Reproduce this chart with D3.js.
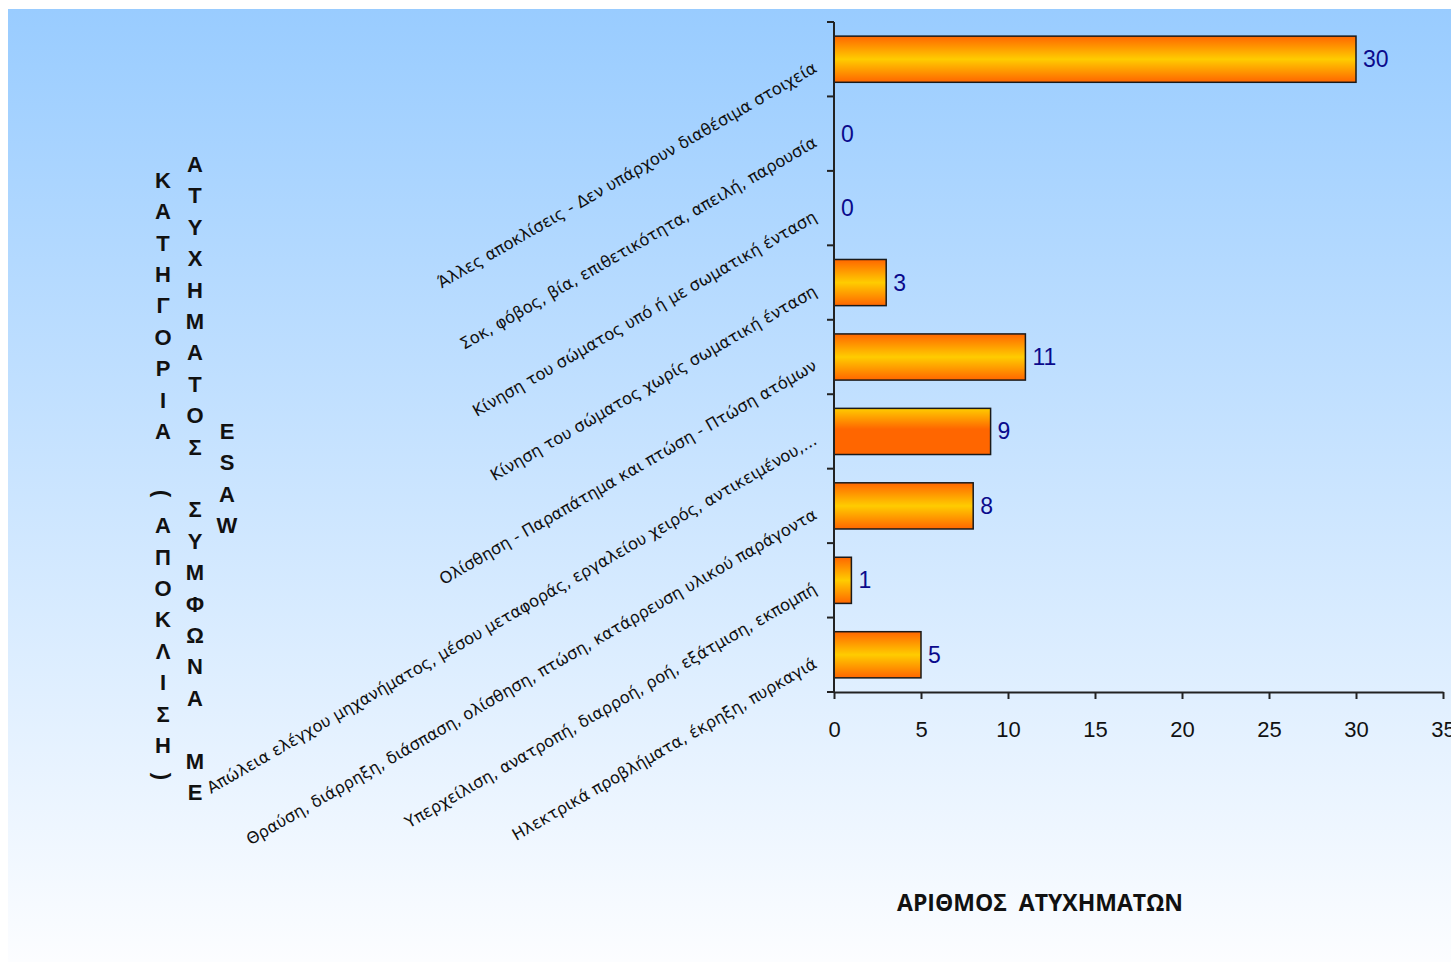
<!DOCTYPE html>
<html>
<head>
<meta charset="utf-8">
<script src="https://cdn.jsdelivr.net/npm/d3@7"></script>
<style>
  html, body { margin: 0; padding: 0; background: #ffffff; }
  svg { display: block; }
</style>
</head>
<body>
<svg id="chart" width="1451" height="962"></svg>
<script>
// ---- data ----
const categories = [
  "Άλλες αποκλίσεις - Δεν υπάρχουν διαθέσιμα στοιχεία",
  "Σοκ, φόβος, βία, επιθετικότητα, απειλή, παρουσία",
  "Κίνηση του σώματος υπό ή με σωματική ένταση",
  "Κίνηση του σώματος χωρίς σωματική ένταση",
  "Ολίσθηση - Παραπάτημα και πτώση - Πτώση ατόμων",
  "Απώλεια ελέγχου μηχανήματος, μέσου μεταφοράς, εργαλείου χειρός, αντικειμένου,...",
  "Θραύση, διάρρηξη, διάσπαση, ολίσθηση, πτώση, κατάρρευση υλικού παράγοντα",
  "Υπερχείλιση, ανατροπή, διαρροή, ροή, εξάτμιση, εκπομπή",
  "Ηλεκτρικά προβλήματα, έκρηξη, πυρκαγιά"
];
const values = [30, 0, 0, 3, 11, 9, 8, 1, 5];
const xTickValues = [0, 5, 10, 15, 20, 25, 30, 35];
const xTitle = "ΑΡΙΘΜΟΣ  ΑΤΥΧΗΜΑΤΩΝ";
const yTitleColumns = ["ΚΑΤΗΓΟΡΙΑ (ΑΠΟΚΛΙΣΗ)", "ΑΤΥΧΗΜΑΤΟΣ ΣΥΜΦΩΝΑ ΜΕ", "ESAW"];

// ---- layout ----
const W = 1451, H = 962;
const plot = { left: 834, right: 1443, top: 22, bottom: 692 };

const svg = d3.select("#chart");
const defs = svg.append("defs");

const bg = defs.append("linearGradient").attr("id", "bgGrad")
  .attr("x1", 0).attr("y1", 0).attr("x2", 0).attr("y2", 1);
bg.append("stop").attr("offset", "0%").attr("stop-color", "#99CCFF");
bg.append("stop").attr("offset", "100%").attr("stop-color", "#FCFDFF");

const barGrad = defs.append("linearGradient").attr("id", "barGrad")
  .attr("x1", 0).attr("y1", 0).attr("x2", 0).attr("y2", 1);
barGrad.append("stop").attr("offset", "0%").attr("stop-color", "#FF6600");
barGrad.append("stop").attr("offset", "50%").attr("stop-color", "#FFCC00");
barGrad.append("stop").attr("offset", "100%").attr("stop-color", "#FF6600");

const barGrad2 = defs.append("linearGradient").attr("id", "barGrad2")
  .attr("x1", 0).attr("y1", 0).attr("x2", 0).attr("y2", 1);
barGrad2.append("stop").attr("offset", "0%").attr("stop-color", "#FFCC00");
barGrad2.append("stop").attr("offset", "45%").attr("stop-color", "#FF6600");
barGrad2.append("stop").attr("offset", "100%").attr("stop-color", "#FF6600");

svg.append("rect").attr("x", 8).attr("y", 9).attr("width", W - 8).attr("height", H - 9)
  .attr("fill", "url(#bgGrad)");

const x = d3.scaleLinear().domain([0, 35]).range([plot.left, plot.right]);
const y = d3.scaleBand().domain(categories).range([plot.top, plot.bottom])
  .paddingInner(0.38).paddingOuter(0.19);

// bars
const gBars = svg.append("g");
values.forEach((v, i) => {
  if (v <= 0) return;
  gBars.append("rect")
    .attr("x", x(0))
    .attr("y", y(categories[i]))
    .attr("width", x(v) - x(0))
    .attr("height", y.bandwidth())
    .attr("fill", i === 5 ? "url(#barGrad2)" : "url(#barGrad)")
    .attr("stroke", "#1a1a1a")
    .attr("stroke-width", 1.5);
});

// value labels
svg.append("g").selectAll("text").data(values).join("text")
  .attr("x", d => x(d) + 7)
  .attr("y", (d, i) => y(categories[i]) + y.bandwidth() / 2 + 8)
  .attr("font-family", "Liberation Sans, Arial, sans-serif")
  .attr("font-size", 23)
  .attr("fill", "#0A0A8C")
  .text(d => d);

// y axis line and ticks at category boundaries
const gy = svg.append("g").attr("stroke", "#222").attr("stroke-width", 2);
gy.append("line").attr("x1", plot.left).attr("x2", plot.left)
  .attr("y1", plot.top).attr("y2", plot.bottom);
const step = y.step();
d3.range(categories.length + 1).forEach(k => {
  const yy = plot.top + k * step;
  gy.append("line").attr("x1", plot.left - 7).attr("x2", plot.left)
    .attr("y1", yy).attr("y2", yy);
});

// x axis
const gx = svg.append("g").attr("transform", `translate(0,${plot.bottom})`)
  .call(d3.axisBottom(x).tickValues(xTickValues).tickSize(7).tickSizeOuter(0).tickPadding(22));
gx.select(".domain").attr("stroke", "#222").attr("stroke-width", 2);
gx.selectAll(".tick line").attr("stroke", "#222").attr("stroke-width", 2);
gx.selectAll(".tick text")
  .attr("font-family", "Liberation Sans, Arial, sans-serif")
  .attr("font-size", 22)
  .attr("fill", "#111");

// category labels (rotated)
svg.append("g").selectAll("text").data(categories).join("text")
  .attr("transform", d => `translate(${plot.left - 16},${y(d) + y.bandwidth() / 2 + 12}) rotate(-30)`)
  .attr("text-anchor", "end")
  .attr("font-family", "DejaVu Sans, Verdana, sans-serif")
  .attr("font-size", 16.3)
  .attr("fill", "#111")
  .text(d => d);

// x title
svg.append("text")
  .attr("x", 1040).attr("y", 911)
  .attr("text-anchor", "middle")
  .attr("font-family", "Open Sans, Liberation Sans, sans-serif")
  .attr("font-weight", "bold")
  .attr("font-size", 23)
  .attr("fill", "#111")
  .attr("xml:space", "preserve")
  .style("white-space", "pre")
  .text(xTitle);

// y title: stacked letters in columns
const colX = [163, 195, 227];
const pitch = 31.4, centerY = 478;
yTitleColumns.forEach((str, c) => {
  const chars = Array.from(str);
  const n = chars.length;
  chars.forEach((ch, i) => {
    if (ch === " ") return;
    const cy = centerY + (i - (n - 1) / 2) * pitch;
    const t = svg.append("text")
      .attr("text-anchor", "middle")
      .attr("font-family", "Liberation Sans, Arial, sans-serif")
      .attr("font-weight", "bold")
      .attr("font-size", 22)
      .attr("fill", "#111")
      .text(ch);
    if (ch === "(" || ch === ")") {
      t.attr("transform", `translate(${colX[c]},${cy}) rotate(90)`)
       .attr("dy", "0.35em");
    } else {
      t.attr("x", colX[c]).attr("y", cy + 8);
    }
  });
});
</script>
</body>
</html>
